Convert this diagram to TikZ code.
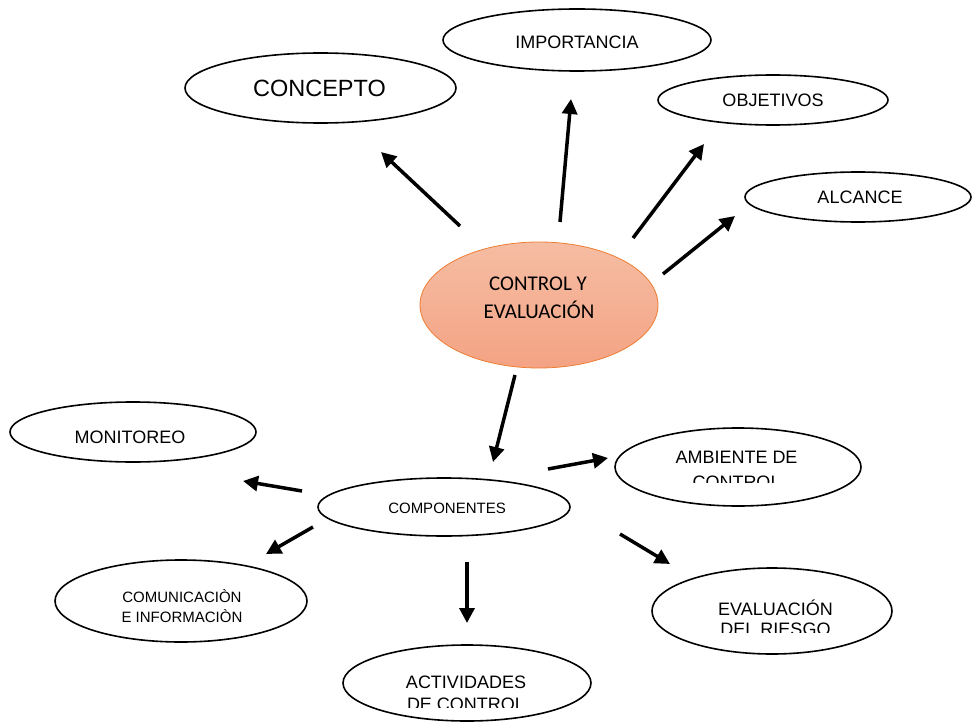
\documentclass[tikz,border=0pt]{standalone}
\usepackage{fontspec}
\setmainfont{Liberation Sans}
\newfontfamily\calib{Carlito}
\usetikzlibrary{shapes.geometric,arrows.meta}
\definecolor{salmonTop}{HTML}{F5BDA3}
\definecolor{salmonBot}{HTML}{F4A384}
\definecolor{orangeLine}{HTML}{ED7D31}
\tikzset{
  oval/.style={ellipse, draw=black, line width=1.6pt, inner sep=0pt},
  lbl/.style={anchor=base, inner sep=0pt, font=\fontsize{18}{20}\selectfont},
  lblsmall/.style={anchor=base, inner sep=0pt, font=\fontsize{15}{18}\selectfont},
  arr/.style={line width=3.5pt, -{Triangle[length=15pt,width=15pt]}}
}
\begin{document}
\begin{tikzpicture}[x=1pt,y=-1pt]
\useasboundingbox (0,0) rectangle (974,722);
% ellipses
\node[oval, minimum width=271pt, minimum height=70pt] (concepto) at (320.5,88) {};
\node[oval, minimum width=268pt, minimum height=62pt] (importancia) at (577,40) {};
\node[oval, minimum width=230pt, minimum height=50pt] (objetivos) at (773,100) {};
\node[oval, minimum width=226pt, minimum height=50pt] (alcance) at (858,197) {};
\node[ellipse, draw=orangeLine, line width=0.8pt, top color=salmonTop, bottom color=salmonBot, minimum width=238pt, minimum height=126pt, inner sep=0pt] (centro) at (539,305) {};
\node[oval, minimum width=246pt, minimum height=60pt] (monitoreo) at (133,432) {};
\node[oval, minimum width=252pt, minimum height=58pt] (componentes) at (444,507) {};
\node[oval, minimum width=246pt, minimum height=78pt] (ambiente) at (738,467) {};
\node[oval, minimum width=240pt, minimum height=86pt] (evaluacion) at (772,611) {};
\node[oval, minimum width=248pt, minimum height=76pt] (actividades) at (467,683) {};
\node[oval, minimum width=252pt, minimum height=82pt] (comunicacion) at (181,601) {};
% texts
\node[anchor=base, inner sep=0pt, font=\fontsize{23.5}{26}\selectfont] (tconcepto) at (319.5,97) {CONCEPTO};
\node[lbl] (timportancia) at (577,49) {IMPORTANCIA};
\node[lbl] (tobjetivos) at (773,107) {OBJETIVOS};
\node[lbl] (talcance) at (860,204) {ALCANCE};
\node[anchor=base, inner sep=0pt, font=\calib\fontsize{21}{24}\selectfont] (tcentroa) at (538,290) {CONTROL Y};
\node[anchor=base, inner sep=0pt, font=\calib\fontsize{21}{24}\selectfont] (tcentrob) at (539,318) {EVALUACIÓN};
\node[lbl] (tmonitoreo) at (130,443) {MONITOREO};
\node[lblsmall] (tcomponentes) at (447,513) {COMPONENTES};
\node[lbl] (tambientea) at (736.5,463) {AMBIENTE DE};
\begin{scope}
\clip (600,470) rectangle (880,482);
\node[lbl] (tambienteb) at (736.5,488) {CONTROL};
\end{scope}
\node[lbl] (tevala) at (775.5,615) {EVALUACIÓN};
\begin{scope}
\clip (650,618) rectangle (890,632);
\node[lbl] (tevalb) at (775.5,635) {DEL RIESGO};
\end{scope}
\node[lbl] (tacta) at (466,688) {ACTIVIDADES};
\begin{scope}
\clip (340,692) rectangle (600,707);
\node[lbl] (tactb) at (466,710) {DE CONTROL};
\end{scope}
\node[lblsmall] (tcoma) at (182,602) {COMUNICACIÒN};
\node[lblsmall] (tcomb) at (182,622) {E INFORMACIÒN};
% arrow end points
\coordinate (a1s) at (460,226); \coordinate (a1e) at (381,152);
\coordinate (a2s) at (560,222); \coordinate (a2e) at (571,99);
\coordinate (a3s) at (633,238); \coordinate (a3e) at (704,144);
\coordinate (a4s) at (663,274); \coordinate (a4e) at (735,216);
\coordinate (a5s) at (515,375); \coordinate (a5e) at (493,462);
\coordinate (a6s) at (302,491); \coordinate (a6e) at (243,481);
\coordinate (a7s) at (548,469); \coordinate (a7e) at (608,458);
\coordinate (a8s) at (313,527); \coordinate (a8e) at (266,554);
\coordinate (a9s) at (467,562); \coordinate (a9e) at (467,623);
\coordinate (a10s) at (620,534); \coordinate (a10e) at (670,564);
\foreach \i in {1,...,10} { \draw[arr] (a\i s) -- (a\i e); }
\end{tikzpicture}
\end{document}
